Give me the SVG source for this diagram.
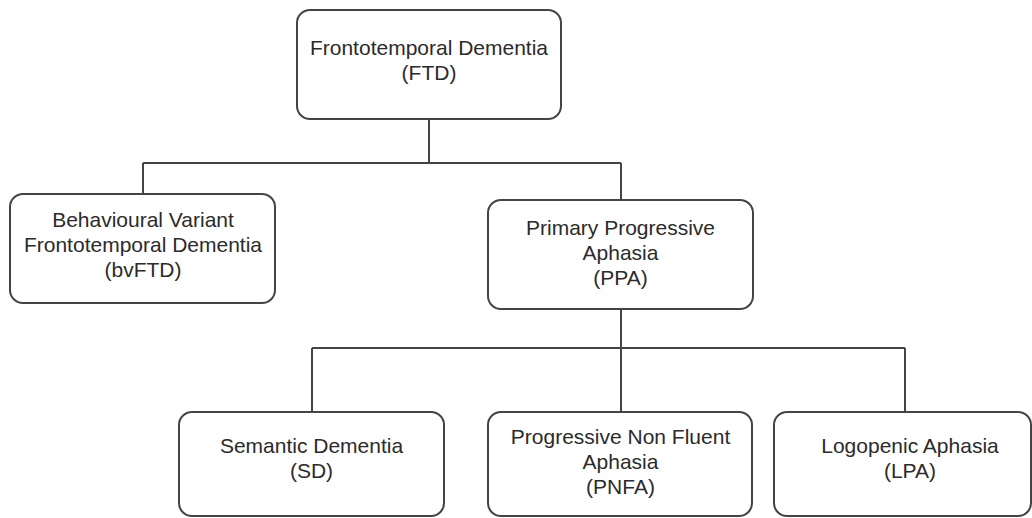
<svg xmlns="http://www.w3.org/2000/svg" width="1032" height="518" viewBox="0 0 1032 518">
<style>
.box{fill:#ffffff;stroke:#444444;stroke-width:2}
.lbl{font-family:"Liberation Sans",Arial,sans-serif;font-size:21px;fill:#2b2b2b;text-anchor:middle}
.conn{fill:none;stroke:#444444;stroke-width:2}
</style>
<rect width="1032" height="518" fill="#ffffff"/>
<g id="connectors">
<path class="conn" d="M429 119 V163 M143 163 H621 M143 163 V194 M621 163 V200"/>
<path class="conn" d="M621 309 V348 M312 348 H905 M312 348 V412 M621 348 V412 M905 348 V412"/>
</g>
<g id="ftd">
<rect class="box" x="297" y="10" width="264" height="109" rx="13"/>
<text class="lbl" x="429" y="55">Frontotemporal Dementia</text>
<text class="lbl" x="429" y="80">(FTD)</text>
</g>
<g id="bvftd">
<rect class="box" x="10" y="194" width="265" height="109" rx="13"/>
<text class="lbl" x="143" y="227">Behavioural Variant</text>
<text class="lbl" x="143" y="252">Frontotemporal Dementia</text>
<text class="lbl" x="143" y="277">(bvFTD)</text>
</g>
<g id="ppa">
<rect class="box" x="488" y="200" width="265" height="109" rx="13"/>
<text class="lbl" x="620.5" y="235">Primary Progressive</text>
<text class="lbl" x="620.5" y="260">Aphasia</text>
<text class="lbl" x="620.5" y="285">(PPA)</text>
</g>
<g id="sd">
<rect class="box" x="179" y="412" width="265" height="104" rx="13"/>
<text class="lbl" x="311.5" y="453">Semantic Dementia</text>
<text class="lbl" x="311.5" y="478">(SD)</text>
</g>
<g id="pnfa">
<rect class="box" x="488" y="412" width="264" height="104" rx="13"/>
<text class="lbl" x="620.5" y="444">Progressive Non Fluent</text>
<text class="lbl" x="620.5" y="469">Aphasia</text>
<text class="lbl" x="620.5" y="494">(PNFA)</text>
</g>
<g id="lpa">
<rect class="box" x="774" y="412" width="257" height="104" rx="13"/>
<text class="lbl" x="910" y="453">Logopenic Aphasia</text>
<text class="lbl" x="910" y="478">(LPA)</text>
</g>
</svg>
